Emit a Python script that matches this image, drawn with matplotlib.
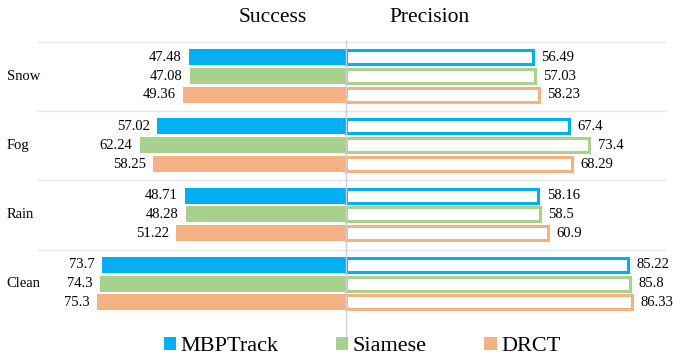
import matplotlib.pyplot as plt
from matplotlib.patches import Patch

plt.rcParams['font.family'] = ['Liberation Serif', 'DejaVu Serif']

categories = ['Snow', 'Fog', 'Rain', 'Clean']
methods = ['MBPTrack', 'Siamese', 'DRCT']
colors = ['#00B0F0', '#A9D18E', '#F4B183']

success = {
    'MBPTrack': [47.48, 57.02, 48.71, 73.7],
    'Siamese': [47.08, 62.24, 48.28, 74.3],
    'DRCT': [49.36, 58.25, 51.22, 75.3],
}
precision = {
    'MBPTrack': [56.49, 67.4, 58.16, 85.22],
    'Siamese': [57.03, 73.4, 58.5, 85.8],
    'DRCT': [58.23, 68.29, 60.9, 86.33],
}
success_lbl = {
    'MBPTrack': ['47.48', '57.02', '48.71', '73.7'],
    'Siamese': ['47.08', '62.24', '48.28', '74.3'],
    'DRCT': ['49.36', '58.25', '51.22', '75.3'],
}
precision_lbl = {
    'MBPTrack': ['56.49', '67.4', '58.16', '85.22'],
    'Siamese': ['57.03', '73.4', '58.5', '85.8'],
    'DRCT': ['58.23', '68.29', '60.9', '86.33'],
}

fig = plt.figure(figsize=(6.73, 3.6), dpi=100)
ax = fig.add_axes([0, 0, 1, 1])
ax.set_xlim(-104.5, 98.8)
ax.set_ylim(360, 0)
ax.axis('off')

group_gap = 69.2
first = 76
offs = [-18.8, 0, 18.8]
bar_h = 16

for i, cat in enumerate(categories):
    yc = first + group_gap * i
    ax.text(-102.5, yc, cat, ha='left', va='center', fontsize=10.5)
    for j, m in enumerate(methods):
        y = yc + offs[j]
        ax.barh(y, -success[m][i], height=bar_h, color=colors[j], edgecolor='none')
        ax.barh(y, precision[m][i], height=bar_h - 2, color='white',
                edgecolor=colors[j], linewidth=2.2)
        ax.text(-success[m][i] - 2.2, y, success_lbl[m][i], ha='right', va='center', fontsize=10.5)
        ax.text(precision[m][i] + 2.6, y, precision_lbl[m][i], ha='left', va='center', fontsize=10.5)

for i in range(4):
    ax.axhline(42 + group_gap * i, xmin=38 / 673, xmax=665 / 673, color='#e6e6e6', lw=1, zorder=0)
ax.plot([0, 0], [40, 345], color='#d0d0d0', lw=1, zorder=3)

ax.text(-22, 17, 'Success', ha='center', va='center', fontsize=15.5)
ax.text(25.2, 17, 'Precision', ha='center', va='center', fontsize=15.5)

handles = [Patch(facecolor=c, edgecolor='none') for c in colors]
ax.legend(handles, methods, loc='center', bbox_to_anchor=(0.538, 0.038), ncol=3,
          frameon=False, fontsize=16, handlelength=0.55, handleheight=0.55,
          handletextpad=0.2, columnspacing=2.6)

fig.savefig('out.png', dpi=100)
